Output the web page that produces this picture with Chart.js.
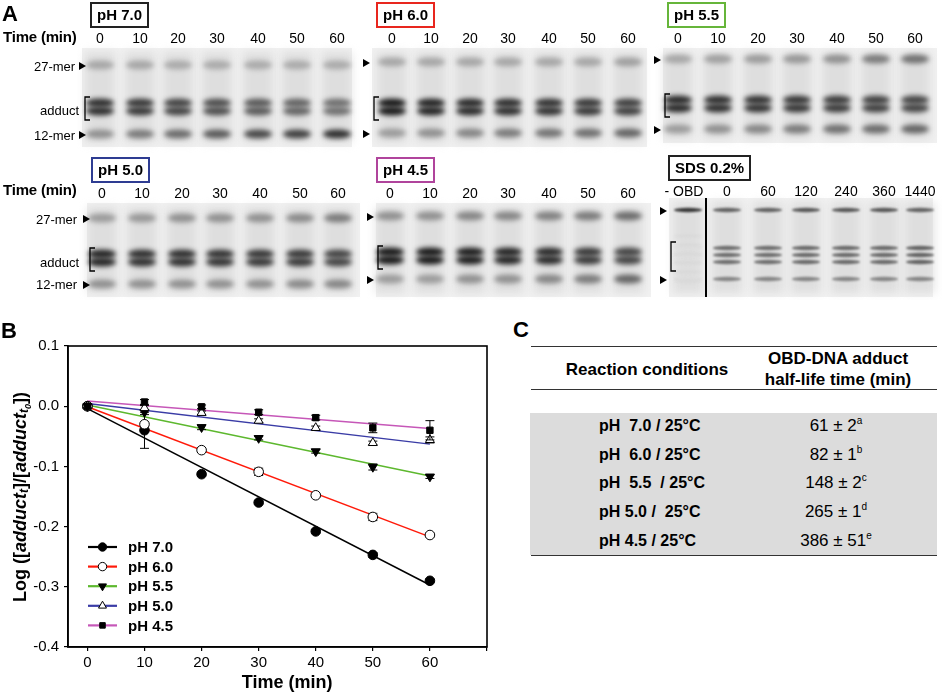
<!DOCTYPE html>
<html>
<head>
<meta charset="utf-8">
<script src="https://cdn.jsdelivr.net/npm/chart.js@4.4.0/dist/chart.umd.min.js"></script>
<style>
  body { margin: 0; background: #fff; font-family: Arial, "Liberation Sans", sans-serif; }
  #page { position: relative; width: 942px; height: 695px; overflow: hidden; }
  .abs { position: absolute; white-space: pre; line-height: 1; }
  .panel { font-weight: bold; font-size: 22px; }
  .phbox { font-weight: bold; font-size: 15px; border: 2px solid #000; padding: 3px 5px 4px 5px; }
  .lane { font-size: 14px; transform: translateX(-50%); }
  .tm { font-weight: bold; font-size: 15px; letter-spacing: -0.2px; }
  .band { font-size: 13px; }
  #gels { position: absolute; left: 0; top: 0; }
  #chartWrap { position: absolute; left: 0; top: 330px; width: 500px; height: 365px; }
  .rule { position: absolute; left: 531px; width: 406px; height: 0; border-top: 1.5px solid #333; }
  .tc { font-size: 15px; }
  .th { font-size: 17px; font-weight: bold; transform: translateX(-50%); }
  sup { font-size: 10px; vertical-align: 7px; line-height: 0; }
</style>
</head>
<body>
<div id="page">
  <canvas id="gels" width="942" height="300"></canvas>

  <div class="abs panel" style="left:2px;top:3px;">A</div>
  <div class="abs phbox" style="left:90px;top:2px;border-color:#222;">pH 7.0</div>
  <div class="abs phbox" style="left:376px;top:2px;border-color:#e8261e;">pH 6.0</div>
  <div class="abs phbox" style="left:667px;top:2px;border-color:#66b53a;">pH 5.5</div>
  <div class="abs tm" style="left:3px;top:29px;">Time (min)</div>

  <div class="abs phbox" style="left:91px;top:157px;border-color:#2e3c92;">pH 5.0</div>
  <div class="abs phbox" style="left:376px;top:157px;border-color:#b0449c;">pH 4.5</div>
  <div class="abs phbox" style="left:668px;top:155px;border-color:#222;">SDS 0.2%</div>
  <div class="abs tm" style="left:3px;top:182px;">Time (min)</div>

  <div class="abs band" style="left:34px;top:60px;">27-mer</div>
  <div class="abs band" style="left:40px;top:104px;">adduct</div>
  <div class="abs band" style="left:34px;top:129px;">12-mer</div>
  <div class="abs band" style="left:36px;top:213px;">27-mer</div>
  <div class="abs band" style="left:40px;top:256px;">adduct</div>
  <div class="abs band" style="left:36px;top:278px;">12-mer</div>

  <div id="lanes"></div>

  <div id="chartWrap"><canvas id="kinetics" width="500" height="365"></canvas></div>
  <div class="abs panel" style="left:1px;top:320px;">B</div>

  <div class="abs panel" style="left:513px;top:319px;">C</div>
  <div class="rule" style="top:346px;"></div>
  <div class="abs th" style="left:647px;top:361px;">Reaction conditions</div>
  <div class="abs th" style="left:838px;top:350px;">OBD-DNA adduct</div>
  <div class="abs th" style="left:838px;top:371px;">half-life time (min)</div>
  <div class="rule" style="top:389px;"></div>
  <div class="abs" style="left:530px;top:413px;width:407px;height:142px;background:#dcdcdc;"></div>
  <div class="rule" style="top:555px;"></div>
  <div id="rows"></div>
</div>

<script>
// ---- panel B data ----
const times = [0, 10, 20, 30, 40, 50, 60];
const ph70 = [0, -0.040, -0.113, -0.160, -0.208, -0.247, -0.290];
const ph60 = [0, -0.030, -0.073, -0.109, -0.148, -0.184, -0.214];
const ph55 = [0, -0.010, -0.035, -0.053, -0.075, -0.101, -0.117];
const ph50 = [0, -0.003, -0.011, -0.024, -0.036, -0.061, -0.056];
const ph45 = [0, 0.007, -0.001, -0.010, -0.019, -0.036, -0.040];
const err70 = [0, 0.030, 0.003, 0.003, 0.003, 0.004, 0.003];
const err60 = [0, 0.003, 0.003, 0.006, 0.003, 0.006, 0.003];
const err55 = [0, 0.004, 0.004, 0.003, 0.003, 0.005, 0.003];
const err50 = [0, 0.004, 0.003, 0.003, 0.003, 0.003, 0.005];
const err45 = [0, 0.004, 0.003, 0.004, 0.004, 0.008, 0.016];
const fitTimes = [0, 60];
const fit70 = [-0.004, -0.297];
const fit60 = [-0.001, -0.217];
const fit55 = [0.002, -0.116];
const fit50 = [0.0045, -0.063];
const fit45 = [0.0085, -0.037];
const seriesNames = ["pH 7.0", "pH 6.0", "pH 5.5", "pH 5.0", "pH 4.5"];
const xTicks = [0, 10, 20, 30, 40, 50, 60, 70];

// ---- panel A lane labels ----
const phTimes = ["0", "10", "20", "30", "40", "50", "60"];
const sdsTimes = ["- OBD", "0", "60", "120", "240", "360", "1440"];

// ---- panel C table ----
const conditions = ["pH  7.0 / 25°C", "pH  6.0 / 25°C", "pH  5.5  / 25°C", "pH 5.0 /  25°C", "pH 4.5 / 25°C"];
const halfLives = ["61 ± 2", "82 ± 1", "148 ± 2", "265 ± 1", "386 ± 51"];
const letters = ["a", "b", "c", "d", "e"];

// ---------- table ----------
let rowsHtml = "";
conditions.forEach(function (c, i) {
  const y = 418 + i * 28.7;
  rowsHtml += '<div class="abs tc" style="left:599px;top:' + y + 'px;font-weight:bold;font-size:16px;">' + c + '</div>';
  rowsHtml += '<div class="abs tc" style="left:836px;top:' + (y - 1) + 'px;font-size:17px;transform:translateX(-50%);">' +
    halfLives[i] + '<sup>' + letters[i] + '</sup></div>';
});
document.getElementById("rows").innerHTML = rowsHtml;

// ---------- gels (panel A pictures) ----------
const gels = [
  { x: 82, y: 48, w: 270, h: 99, lanes: [100, 140, 178, 217, 258, 297, 337], labelY: 31, labels: phTimes,
    top: [65], add: [103, 111], mono: [134], dTop: [.35, .35, .33, .33, .33, .33, .33],
    dAdd: [.9, .85, .8, .75, .7, .65, .6], dMono: [.45, .55, .62, .7, .78, .82, .9] },
  { x: 372, y: 48, w: 275, h: 99, lanes: [392, 431, 470, 508, 549, 588, 628], labelY: 31, labels: phTimes,
    top: [62], add: [103, 111], mono: [133], dTop: [.35, .35, .35, .35, .35, .35, .38],
    dAdd: [1, .95, .92, .9, .88, .85, .82], dMono: [.4, .45, .5, .55, .58, .6, .65] },
  { x: 663, y: 48, w: 274, h: 95, lanes: [678, 718, 758, 797, 837, 876, 915], labelY: 31, labels: phTimes,
    top: [59], add: [100, 108], mono: [129], dTop: [.35, .38, .4, .42, .45, .55, .6],
    dAdd: [.92, .9, .88, .86, .84, .82, .8], dMono: [.4, .45, .5, .55, .6, .62, .65] },
  { x: 87, y: 203, w: 273, h: 94, lanes: [102, 142, 182, 220, 260, 300, 338], labelY: 186, labels: phTimes,
    top: [218], add: [254, 262], mono: [284], dTop: [.4, .42, .45, .45, .45, .48, .55],
    dAdd: [.95, .9, .9, .88, .86, .85, .8], dMono: [.45, .45, .45, .45, .45, .48, .5] },
  { x: 376, y: 203, w: 275, h: 94, lanes: [390, 430, 470, 508, 549, 588, 628], labelY: 186, labels: phTimes,
    top: [216], add: [252, 260], mono: [279], dTop: [.45, .45, .5, .5, .52, .55, .62],
    dAdd: [1, 1, .98, .95, .92, .85, .8], dMono: [.4, .4, .45, .45, .5, .55, .65] },
  { x: 669, y: 198, w: 264, h: 99, lanes: [688, 727, 768, 806, 846, 884, 920], labelY: 184, labels: sdsTimes,
    top: [210], add: [248, 255, 262], mono: [279], dTop: [.85, .65, .65, .7, .7, .7, .65],
    dAdd: [.1, .6, .6, .62, .62, .62, .65], dMono: [.1, .5, .5, .5, .5, .5, .5], thin: true }
];

const gctx = document.getElementById("gels").getContext("2d");
function grey(d) { const v = Math.round(242 - 215 * d); return "rgb(" + v + "," + v + "," + v + ")"; }
function bandAt(cx, y, d, thick, blur) {
  gctx.filter = "blur(" + blur + "px)";
  gctx.fillStyle = grey(d);
  gctx.beginPath();
  gctx.ellipse(cx, y, 14, thick, 0, 0, Math.PI * 2);
  gctx.fill();
}
let laneHtml = "";
gels.forEach(function (g, gi) {
  gctx.filter = "none";
  gctx.fillStyle = "#f1f1f1";
  gctx.fillRect(g.x, g.y, g.w, g.h);
  g.lanes.forEach(function (cx, li) {
    gctx.filter = "blur(4px)";
    gctx.fillStyle = "rgba(200,200,200,0.45)";
    gctx.fillRect(cx - 15, g.y + 4, 30, g.h - 8);
    const blur = g.thin ? 1.3 : 2.4;
    const th = g.thin ? 2.2 : 4.5;
    g.top.forEach(function (y) { bandAt(cx, y, g.dTop[li], th, blur); });
    g.add.forEach(function (y) { bandAt(cx, y, g.dAdd[li], th, blur); });
    g.mono.forEach(function (y) { bandAt(cx, y, g.dMono[li], th, blur); });
    if (g.thin && li === 0) {
      for (let k = 0; k < 6; k++) bandAt(cx, 236 + k * 9, 0.12, 1.2, 1);
    }
    laneHtml += '<div class="abs lane" style="left:' + (gi === 5 && li === 0 ? cx - 4 : cx) + 'px;top:' + g.labelY + 'px;">' + g.labels[li] + '</div>';
  });
  // arrowheads and bracket at left edge
  gctx.filter = "none";
  gctx.fillStyle = "#000";
  const ax = gi === 0 ? g.x - 3 : gi === 3 ? g.x - 4 : g.x - 9;
  [g.top[0] + 1, g.mono[0] + 1].forEach(function (y) {
    gctx.beginPath();
    gctx.moveTo(ax, y - 4); gctx.lineTo(ax + 7, y); gctx.lineTo(ax, y + 4); gctx.closePath(); gctx.fill();
  });
  gctx.strokeStyle = "#000";
  gctx.lineWidth = 1.3;
  const b0 = g.add[0] - 6, b1 = g.add[g.add.length - 1] + 9;
  const bx = g.x + (gi === 0 || gi === 3 ? 3 : 2);
  gctx.beginPath();
  gctx.moveTo(bx + 5, b0); gctx.lineTo(bx, b0); gctx.lineTo(bx, b1); gctx.lineTo(bx + 5, b1);
  gctx.stroke();
});
gctx.fillStyle = "#000";
gctx.fillRect(705, 198, 2, 99);
document.getElementById("lanes").innerHTML = laneHtml;

// ---------- panel B chart ----------
const lineColors = ["#000000", "#ff1a0a", "#5db82e", "#3a3ca6", "#c657b8"];
const pointStyles = ["circle", "circle", "triangle", "triangle", "rect"];
const pointFill = ["#000", "#fff", "#000", "#fff", "#000"];
const pointRot = [0, 0, 180, 0, 0];
const pointR = [4.8, 4.8, 5.2, 5.2, 4.5];
const values = [ph70, ph60, ph55, ph50, ph45];
const errors = [err70, err60, err55, err50, err45];
const fits = [fit70, fit60, fit55, fit50, fit45];

const datasets = [];
fits.forEach(function (f, i) {
  datasets.push({
    label: seriesNames[i] + " fit",
    data: fitTimes.map(function (t, k) { return { x: t, y: f[k] }; }),
    borderColor: lineColors[i], borderWidth: 1.5, pointRadius: 0, showLine: true,
    fill: false, order: 20 + i, isFit: true
  });
});
values.forEach(function (v, i) {
  datasets.push({
    label: seriesNames[i],
    data: times.map(function (t, k) { return { x: t, y: v[k] }; }),
    errs: errors[i],
    showLine: false, pointStyle: pointStyles[i], pointRotation: pointRot[i],
    pointRadius: pointR[i], pointBackgroundColor: pointFill[i], pointBorderColor: "#000",
    pointBorderWidth: 1, borderColor: lineColors[i], order: i === 4 ? 0 : 5 - i
  });
});

const frameAndExtras = {
  id: "frameAndExtras",
  beforeDatasetDraw(chart, args) {
    const ds = chart.data.datasets[args.index];
    if (!ds.errs) return;
    const ctx = chart.ctx, xs = chart.scales.x, ys = chart.scales.y;
    ctx.save();
    ctx.strokeStyle = "#000";
    ctx.lineWidth = 1;
    ds.data.forEach(function (p, k) {
      const e = ds.errs[k];
      if (!e) return;
      const px = xs.getPixelForValue(p.x);
      const y1 = ys.getPixelForValue(p.y + e), y2 = ys.getPixelForValue(p.y - e);
      ctx.beginPath();
      ctx.moveTo(px, y1); ctx.lineTo(px, y2);
      ctx.moveTo(px - 4.5, y1); ctx.lineTo(px + 4.5, y1);
      ctx.moveTo(px - 4.5, y2); ctx.lineTo(px + 4.5, y2);
      ctx.stroke();
    });
    ctx.restore();
  },
  afterDraw(chart) {
    const ctx = chart.ctx, a = chart.chartArea, xs = chart.scales.x;
    ctx.save();
    ctx.strokeStyle = "#000";
    ctx.lineWidth = 1.6;
    ctx.strokeRect(a.left, a.top, a.right - a.left, a.bottom - a.top);

    // legend
    const pts = chart.data.datasets.filter(function (d) { return !d.isFit; });
    pts.forEach(function (d, i) {
      const y = 217 + i * 19.6;
      ctx.strokeStyle = d.borderColor;
      ctx.lineWidth = 2.2;
      ctx.beginPath(); ctx.moveTo(88, y); ctx.lineTo(117, y); ctx.stroke();
      ctx.fillStyle = d.pointBackgroundColor;
      ctx.strokeStyle = "#000";
      ctx.lineWidth = 1;
      Chart.helpers.drawPoint(ctx, { pointStyle: d.pointStyle, rotation: d.pointRotation, radius: d.pointRadius - 0.6, borderWidth: 1 }, 102.5, y);
      ctx.fillStyle = "#000";
      ctx.font = "bold 15px Arial, 'Liberation Sans', sans-serif";
      ctx.textBaseline = "middle";
      ctx.textAlign = "left";
      ctx.fillText(d.label, 128, y + 1);
    });

    // x title, centred on the 0..70 range as in the figure
    ctx.fillStyle = "#000";
    ctx.font = "bold 18px Arial, 'Liberation Sans', sans-serif";
    ctx.textAlign = "center";
    ctx.textBaseline = "middle";
    ctx.fillText("Time (min)", (xs.getPixelForValue(0) + xs.getPixelForValue(70)) / 2, 353);

    // y title with italic subscripts
    ctx.translate(21, 167);
    ctx.rotate(-Math.PI / 2);
    const big = "bold 18px Arial, 'Liberation Sans', sans-serif";
    const bigI = "italic bold 18px Arial, 'Liberation Sans', sans-serif";
    const sub = "italic bold 12px Arial, 'Liberation Sans', sans-serif";
    const sub2 = "italic bold 9px Arial, 'Liberation Sans', sans-serif";
    const parts = [
      [big, "Log ([", 0], [bigI, "adduct", 0], [sub, "t", 4], [big, "]/[", 0],
      [bigI, "adduct", 0], [sub, "t", 4], [sub2, "0", 8], [big, "])", 0]
    ];
    let total = 0;
    parts.forEach(function (p) { ctx.font = p[0]; total += ctx.measureText(p[1]).width; });
    let x = -total / 2;
    ctx.textAlign = "left";
    parts.forEach(function (p) {
      ctx.font = p[0];
      ctx.fillText(p[1], x, p[2]);
      x += ctx.measureText(p[1]).width;
    });
    ctx.restore();
  }
};

new Chart("kinetics", {
  type: "scatter",
  data: { datasets: datasets },
  options: {
    responsive: false,
    animation: false,
    layout: { padding: { top: 16, right: 13, bottom: 5, left: 0 } },
    plugins: { legend: { display: false }, tooltip: { enabled: false } },
    scales: {
      x: {
        type: "linear", min: -3.4, max: 70,
        afterBuildTicks: function (s) { s.ticks = xTicks.map(function (v) { return { value: v }; }); },
        afterFit: function (s) { s.height = 43; },
        grid: { drawOnChartArea: false, color: "#000", tickLength: 4, lineWidth: 1.2 },
        border: { color: "#000", width: 1.6 },
        ticks: {
          color: "#000", padding: 3, maxRotation: 0, autoSkip: false,
          font: { family: "Arial, 'Liberation Sans', sans-serif", size: 15 },
          callback: function (v) { return v > 60 ? "" : String(v); }
        }
      },
      y: {
        min: -0.4, max: 0.1,
        afterFit: function (s) { s.width = 68; },
        grid: { drawOnChartArea: false, color: "#000", tickLength: 4, lineWidth: 1.2 },
        border: { color: "#000", width: 1.6 },
        ticks: {
          stepSize: 0.1, color: "#000", padding: 5,
          font: { family: "Arial, 'Liberation Sans', sans-serif", size: 15 },
          callback: function (v) { return Math.abs(v) < 1e-9 ? "0.0" : v.toFixed(1); }
        }
      }
    }
  },
  plugins: [frameAndExtras]
});
</script>
</body>
</html>
